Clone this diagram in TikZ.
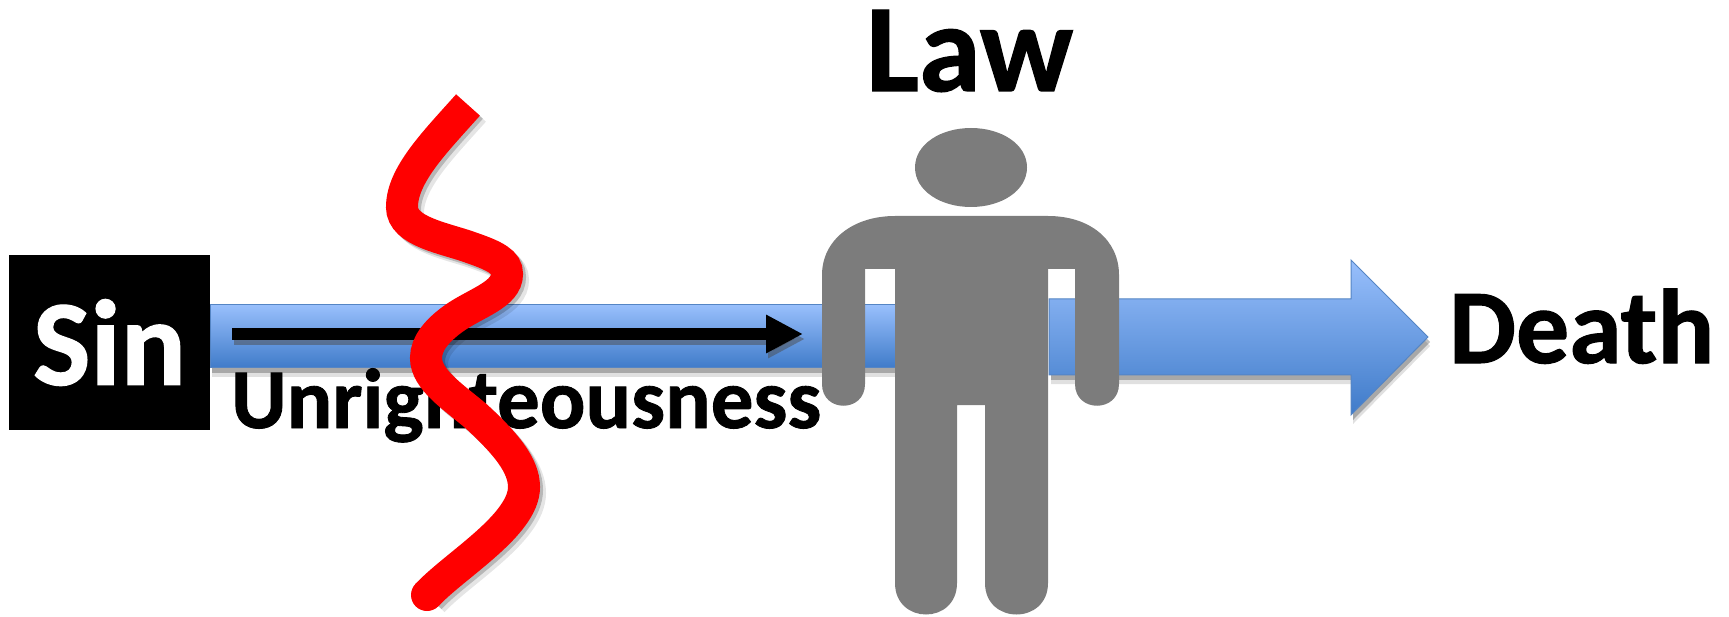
\documentclass[tikz,border=0pt]{standalone}
\usepackage{xcolor}
\usepackage{fontspec}
\setmainfont[BoldFeatures={FakeBold=1}]{Carlito}
\usetikzlibrary{arrows.meta, positioning}
\definecolor{bartop}{HTML}{98BFFC}
\definecolor{barbottom}{HTML}{3F7BC9}
\definecolor{barline}{HTML}{5585C4}
\definecolor{figuregray}{HTML}{7C7C7C}

\begin{document}
\begin{tikzpicture}[x=1pt, y=-1pt,
  softshadow/.style={
    preaction={fill=black, opacity=.12, transform canvas={shift={(2pt,-9pt)}}},
    preaction={fill=black, opacity=.25, transform canvas={shift={(2pt,-5pt)}}}},
  bluebar/.style={softshadow, top color=bartop, bottom color=barbottom, draw=barline, line width=1pt},
  textlabel/.style={font=\bfseries\fontsize{#1}{#1}\selectfont, inner sep=0pt, anchor=base west},
  redpath/.style={line width=32pt, draw=red}]
\useasboundingbox (0,0) rectangle (1729,617);

% Barras
\shade[bluebar] (210,305) rectangle (896,368);
\shade[bluebar] (1049,299) -- (1351,299) -- (1351,260) -- (1428,337)
  -- (1351,415) -- (1351,375) -- (1049,375) -- cycle;

% Textos
\node[fill=black, text=white, minimum width=201pt, minimum height=175pt, inner sep=0pt,
  font=\bfseries\fontsize{122}{122}\selectfont] (sin) at (109.5,342.5) {Sin};
\node[textlabel=85] (unright) at (231,428) {Unrighteousness};
\node[textlabel=106] (death) at (1449,363) {Death};
\node[textlabel=125] (law) at (866,91) {Law};

% Flecha
\coordinate (linestart) at (232,334);
\coordinate (lineend) at (803,334);
\draw[black!70, line width=12pt, opacity=.5, transform canvas={shift={(2pt,-5pt)}},
  -{Triangle[length=37pt, width=36pt]}] (linestart) -- (lineend);
\draw[black, line width=12pt, -{Triangle[length=37pt, width=36pt]}] (linestart) -- (lineend);

% Linea roja
\coordinate (r0) at (468,105);
\coordinate (r1) at (402,207);
\coordinate (r2) at (507,274);
\coordinate (r3) at (426,358);
\coordinate (r4) at (524,487);
\coordinate (r5) at (427,595);
\newcommand{\redcurve}{(r0) .. controls (435,142) and (402,175) .. (r1)
  .. controls (402,232) and (445,238) .. (472,248)
  .. controls (495,256) and (507,262) .. (r2)
  .. controls (507,295) and (475,303) .. (453,319)
  .. controls (438,330) and (426,343) .. (r3)
  .. controls (426,380) and (455,398) .. (477,417)
  .. controls (505,443) and (524,465) .. (r4)
  .. controls (524,525) and (455,565) .. (r5)}
\foreach \shadowop/\dx in {.1/6, .2/3}
  \draw[redpath, draw=black, opacity=\shadowop, transform canvas={shift={(\dx pt,-\dx pt)}}] \redcurve;
\draw[redpath] \redcurve;
\fill[red] (r5) circle (16);

% Persona
\fill[figuregray] (915,167.5) .. controls (915,144) and (941,128) .. (971,128)
  .. controls (1001,128) and (1027,144) .. (1027,167.5)
  .. controls (1027,191) and (1001,207) .. (971,207)
  .. controls (941,207) and (915,191) .. (915,167.5) -- cycle;
\fill[figuregray] (895,216) -- (1048,216)
  .. controls (1090,216) and (1119,240) .. (1119,275) -- (1119,384)
  .. controls (1119,413) and (1075,413) .. (1075,384) -- (1075,269) -- (1048,269)
  -- (1048,583) .. controls (1048,625) and (985,625) .. (985,583) -- (985,405) -- (957,405)
  -- (957,583) .. controls (957,625) and (895,625) .. (895,583) -- (895,269) -- (865,269)
  -- (865,384) .. controls (865,413) and (822,413) .. (822,384) -- (822,275)
  .. controls (822,240) and (853,216) .. (895,216) -- cycle;
\end{tikzpicture}
\end{document}
